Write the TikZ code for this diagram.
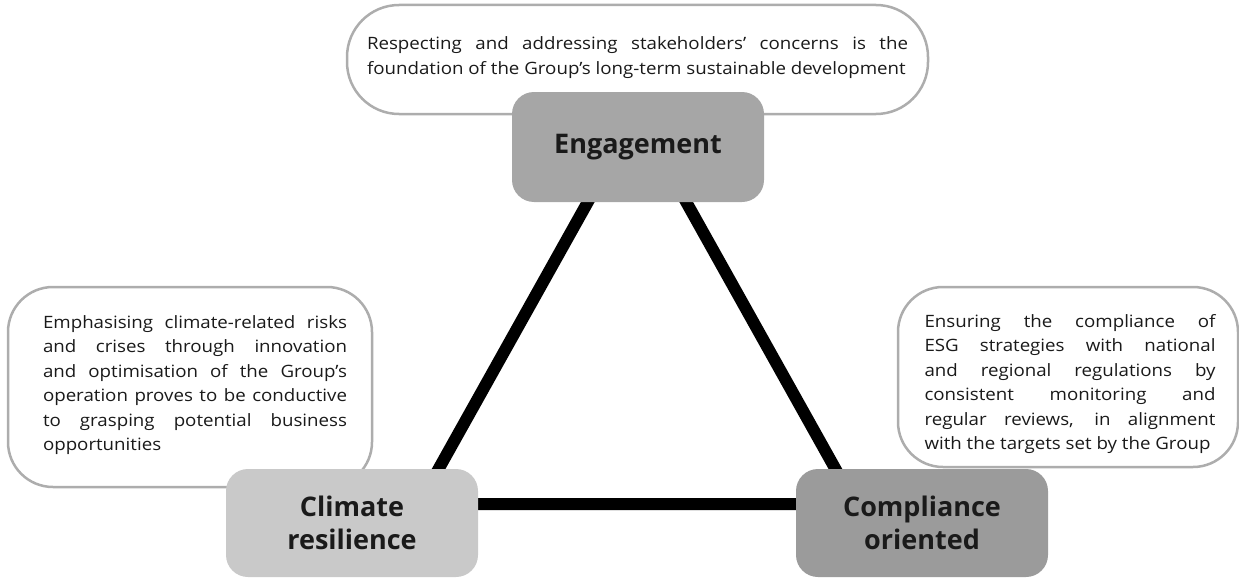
\documentclass[tikz,border=0pt]{standalone}
\usepackage{fontspec}
\setmainfont{Open Sans}
\newfontfamily\calloutfont{Open Sans}[FakeStretch=1.1]
\definecolor{engfill}{HTML}{A6A6A6}
\definecolor{climfill}{HTML}{C9C9C9}
\definecolor{compfill}{HTML}{9B9B9B}
\definecolor{callgray}{HTML}{ADADAD}
\definecolor{inkgray}{HTML}{1A1A1A}
\tikzset{
  pillar/.style={rounded corners=22pt, minimum width=252pt, minimum height=108pt,
    align=center, inner sep=0pt, text=inkgray,
    font=\fontsize{27}{33}\selectfont\bfseries},
  callout/.style={draw=callgray, line width=2.5pt, fill=white, rounded corners=45pt, inner sep=0pt},
  calltext/.style={align=justify, inner sep=0pt, text=inkgray,
    font=\calloutfont\fontsize{17}{24.5}\selectfont},
  tri/.style={line width=12pt, line join=miter}
}
\begin{document}
\begin{tikzpicture}[x=1pt,y=-1pt]
\useasboundingbox (0,0) rectangle (1239,578);
\node[callout, minimum width=581pt, minimum height=109pt, rounded corners=52pt] (engcall) at (637.5,59.5) {};
\node[callout, minimum width=364pt, minimum height=200pt] (climcall) at (190,387) {};
\node[callout, minimum width=340pt, minimum height=180pt] (compcall) at (1068,377) {};
\node[calltext, text width=541pt, font=\calloutfont\fontsize{17}{25}\selectfont] (engtext) at (637.5,57.5) {Respecting and addressing stakeholders’ concerns is the\linebreak foundation of the Group’s long-term sustainable development};
\node[calltext, text width=304pt] (climtext) at (195,385) {Emphasising climate-related risks\linebreak and crises through innovation\linebreak and optimisation of the Group’s\linebreak operation proves to be conductive\linebreak to grasping potential business\linebreak opportunities};
\node[calltext, text width=291pt] (comptext) at (1070,384) {Ensuring the compliance of\linebreak ESG strategies with national\linebreak and regional regulations by\linebreak consistent monitoring and\linebreak regular reviews, in alignment\linebreak with the targets set by the Group};
\coordinate (tritop) at (637,114);
\coordinate (trileft) at (419,504);
\coordinate (triright) at (855,504);
\draw[tri] (tritop) -- (trileft) -- (triright) -- cycle;
\node[pillar, fill=engfill, minimum height=110pt] (eng) at (638,147) {Engagement};
\node[pillar, fill=climfill] (clim) at (352,523) {Climate\\resilience};
\node[pillar, fill=compfill] (comp) at (922,523) {Compliance\\oriented};
\end{tikzpicture}
\end{document}
